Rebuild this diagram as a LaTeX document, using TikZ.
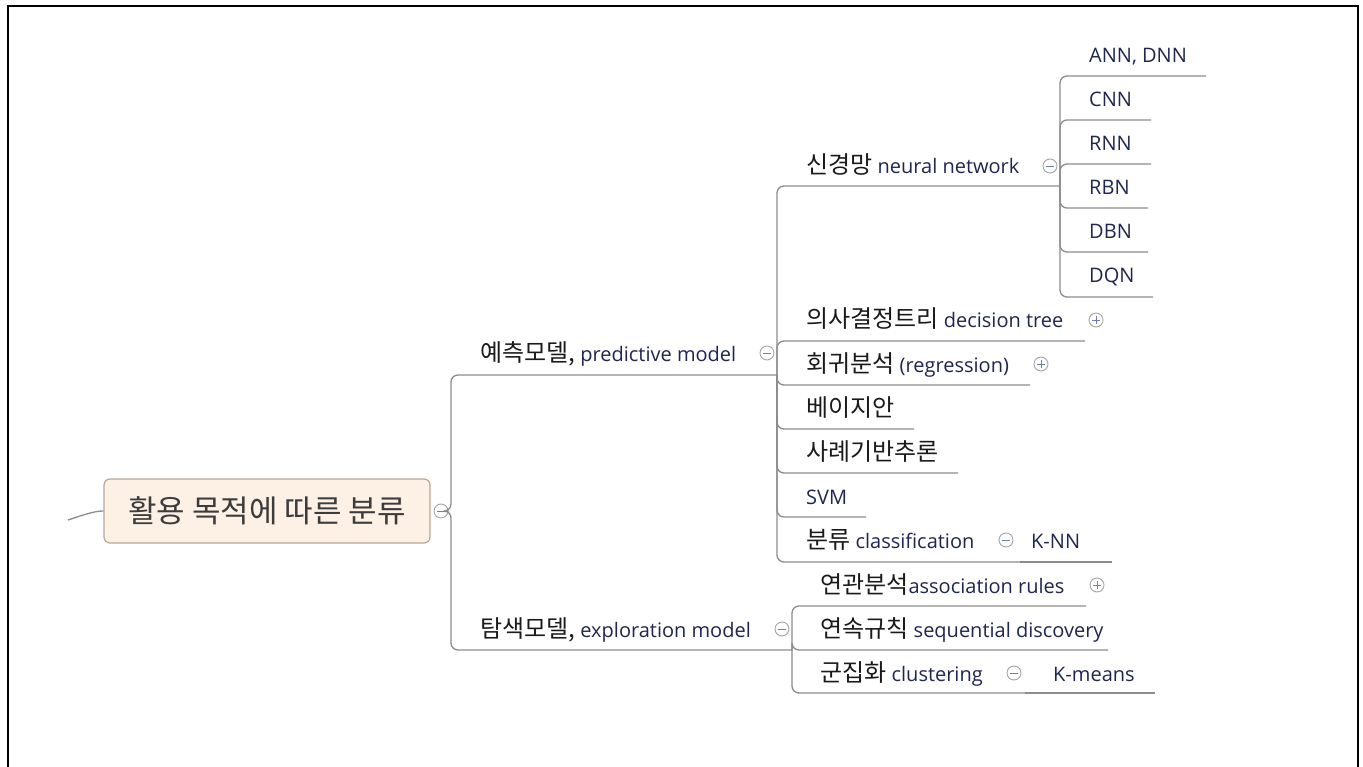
\documentclass[tikz,border=0pt]{standalone}
\usepackage{fontspec}
\setmainfont{Open Sans}
\newfontfamily\krfont{Noto Sans CJK KR}
\definecolor{entxt}{HTML}{1F2650}
\definecolor{krtxt}{HTML}{1A1A1A}
\definecolor{linec}{HTML}{8C8C8C}
\definecolor{foldc}{HTML}{A5A5A5}
\definecolor{foldsign}{HTML}{6E7FAA}
\definecolor{rootfill}{HTML}{FDF1E6}
\definecolor{rootdraw}{HTML}{B7A796}
\newcommand{\kor}[1]{{\krfont\fontsize{24}{26}\selectfont\color{krtxt}#1}}
\tikzset{
  conn/.style={draw=linec, line width=1.3pt, rounded corners=7pt},
  lbl/.style={anchor=base west, inner sep=0pt, text=entxt, font=\fontsize{20}{22}\selectfont},
  fold/.style={circle, draw=foldc, line width=0.9pt, minimum size=14pt, inner sep=0pt, fill=white},
  foldminus/.style={fold, path picture={\draw[foldsign, line width=0.9pt] ([xshift=-4pt]path picture bounding box.center) -- ([xshift=4pt]path picture bounding box.center);}},
  foldplus/.style={fold, path picture={\draw[foldsign, line width=0.9pt] ([xshift=-4pt]path picture bounding box.center) -- ([xshift=4pt]path picture bounding box.center) ([yshift=-4pt]path picture bounding box.center) -- ([yshift=4pt]path picture bounding box.center);}},
  rootbox/.style={draw=rootdraw, fill=rootfill, line width=1.2pt, rounded corners=6pt, minimum width=326pt, minimum height=64pt, inner sep=0pt, text=krtxt!85, font=\krfont\fontsize{31}{34}\selectfont}
}
\begin{document}
\begin{tikzpicture}[x=1pt, y=-1pt]
\useasboundingbox (0,0) rectangle (1363,767);
\fill[white] (0,0) rectangle (1363,767);
\draw[black, line width=2pt] (8,767) -- (8,6) -- (1358,6) -- (1358,767);

% root
\node[rootbox] (root) at (267,511) {활용 목적에 따른 분류};
\coordinate (lc) at (68,520);
\draw[conn] (lc) .. controls (86,514) and (95,511) .. (root.west);

% coordinates for underline ends / junctions
\coordinate (j0) at (451,511);
\coordinate (pmE) at (777,375);
\coordinate (emE) at (792,650);
\coordinate (nnE) at (1060,186);
\coordinate (dtE) at (1085,341);
\coordinate (rgE) at (1030,385);
\coordinate (byE) at (914,429);
\coordinate (cbE) at (958,473);
\coordinate (svmE) at (866,517);
\coordinate (clJ) at (1020,562);
\coordinate (knnE) at (1112,562);
\coordinate (annE) at (1206,76);
\coordinate (cnnE) at (1151,120);
\coordinate (rnnE) at (1151,164);
\coordinate (rbnE) at (1148,208);
\coordinate (dbnE) at (1148,252);
\coordinate (dqnE) at (1153,297);
\coordinate (arE) at (1086,606);
\coordinate (sdE) at (1108,650);
\coordinate (cuJ) at (1025,693);
\coordinate (kmE) at (1155,693);

% fold circles
\node[foldminus] (rc) at (441,511) {};
\node[foldminus] (pmc) at (767,353) {};
\node[foldminus] (emc) at (782,629) {};
\node[foldminus] (nnc) at (1050,166) {};
\node[foldplus] (dtc) at (1096,320) {};
\node[foldplus] (rgc) at (1041,364) {};
\node[foldminus] (clc) at (1006,540) {};
\node[foldplus] (arc) at (1097,585) {};
\node[foldminus] (cuc) at (1014,673) {};

% connectors level 1
\draw[conn] (rc.east) -- (j0) |- (pmE);
\draw[conn] (rc.east) -- (j0) |- (emE);
% predictive model children
\foreach \c in {nnE,dtE,rgE,byE,cbE,svmE,clJ} \draw[conn] (pmE) |- (\c);
\draw[conn] (clJ) -- (knnE);
% neural network children
\foreach \c in {annE,cnnE,rnnE,rbnE,dbnE,dqnE} \draw[conn] (nnE) |- (\c);
% exploration children
\foreach \c in {arE,sdE,cuJ} \draw[conn] (emE) |- (\c);
\draw[conn] (cuJ) -- (kmE);

% labels level 1
\node[lbl] (pm) at (480,361) {\kor{예측모델,} predictive model};
\node[lbl] (em) at (480,637) {\kor{탐색모델,} exploration model};
% predictive children
\node[lbl] (nn) at (806,174) {\kor{신경망} neural network};
\node[lbl] (dt) at (806,328) {\kor{의사결정트리} decision tree};
\node[lbl] (rg) at (806,372) {\kor{회귀분석} (regression)};
\node[lbl] (by) at (806,416) {\kor{베이지안}};
\node[lbl] (cb) at (806,460) {\kor{사례기반추론}};
\node[lbl] (svm) at (806,504) {SVM};
\node[lbl] (cl) at (806,548) {\kor{분류} classification};
\node[lbl] (knn) at (1031,548) {K-NN};
% neural network children
\node[lbl] (ann) at (1089,63) {ANN, DNN};
\node[lbl] (cnn) at (1089,107) {CNN};
\node[lbl] (rnn) at (1089,151) {RNN};
\node[lbl] (rbn) at (1089,195) {RBN};
\node[lbl] (dbn) at (1089,239) {DBN};
\node[lbl] (dqn) at (1089,283) {DQN};
% exploration children
\node[lbl] (ar) at (820,593) {\kor{연관분석}association rules};
\node[lbl] (sd) at (820,637) {\kor{연속규칙} sequential discovery};
\node[lbl] (cu) at (820,681) {\kor{군집화} clustering};
\node[lbl] (km) at (1053,681) {K-means};
\end{tikzpicture}
\end{document}
